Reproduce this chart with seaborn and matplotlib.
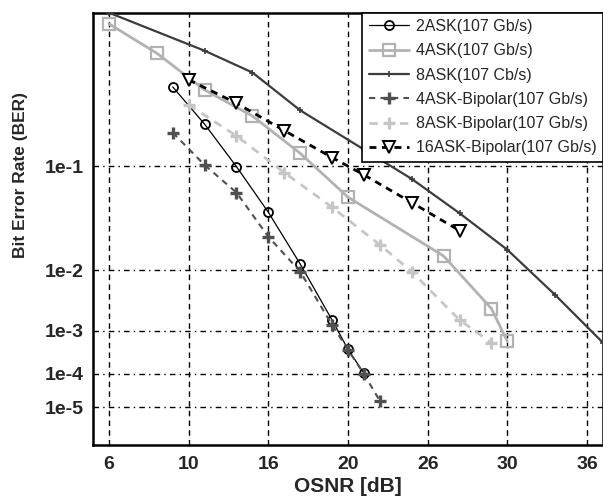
import numpy as np
import pandas as pd
import matplotlib
matplotlib.use("Agg")
import matplotlib.pyplot as plt
import seaborn as sns
from matplotlib.ticker import FixedLocator, FixedFormatter

# OSNR [dB] and bit error rate for each modulation format
osnr_2ask = [9, 11, 13, 15, 17, 19, 20, 21]
ber_2ask = [0.258, 0.176, 0.0995, 0.0437, 0.0120, 0.00161, 4.0e-4, 1.03e-4]

osnr_4ask = [5, 8, 11, 14, 17, 20, 26, 29, 30]
ber_4ask = [0.411, 0.339, 0.251, 0.193, 0.121, 0.059, 0.0151, 0.00258, 6.0e-4]

osnr_8ask = [5, 11, 14, 17, 24, 27, 30, 33, 36]
ber_8ask = [0.438, 0.345, 0.292, 0.205, 0.0816, 0.0428, 0.0179, 0.00434, 5.6e-4]

osnr_4ask_bip = [9, 11, 13, 15, 17, 19, 20, 21, 22]
ber_4ask_bip = [0.159, 0.102, 0.0643, 0.0251, 0.00952, 0.0013, 3.9e-4, 9.9e-5, 1.6e-5]

osnr_8ask_bip = [10, 13, 16, 19, 22, 24, 27, 29]
ber_8ask_bip = [0.217, 0.1527, 0.0906, 0.0485, 0.0204, 0.0095, 0.00161, 5.6e-4]

osnr_16ask_bip = [10, 13, 16, 19, 21, 24, 27]
ber_16ask_bip = [0.2745, 0.2208, 0.163, 0.1139, 0.0873, 0.0531, 0.029]

series_names = ["2ASK(107 Gb/s)", "4ASK(107 Gb/s)", "8ASK(107 Cb/s)",
                "4ASK-Bipolar(107 Gb/s)", "8ASK-Bipolar(107 Gb/s)",
                "16ASK-Bipolar(107 Gb/s)"]

x_ticks = [5, 10, 15, 20, 25, 30, 35]
x_tick_labels = ["6", "10", "16", "20", "26", "30", "36"]
y_ticks = [1e-1, 1e-2, 1e-3, 1e-4, 1e-5]
y_tick_labels = ["1e-1", "1e-2", "1e-3", "1e-4", "1e-5"]

sns.set_style("white")
plt.rcParams["font.family"] = ["Liberation Sans", "DejaVu Sans"]

fig = plt.figure(figsize=(6.03, 4.98), dpi=100)
ax = fig.add_axes([93 / 603, 1 - 445 / 498, 510 / 603, (445 - 12.7) / 498])


def ber_forward(b):
    b = np.clip(np.asarray(b, dtype=float), 1e-300, 1 - 1e-12)
    return -np.log10(-np.log10(b))


def ber_inverse(v):
    v = np.asarray(v, dtype=float)
    return 10.0 ** (-(10.0 ** (-v)))


ax.set_yscale("function", functions=(ber_forward, ber_inverse))

styles = [
    dict(color="black", lw=0.9, ls="-", marker="o", ms=6.5, mfc="none", mec="black", mew=1.3),
    dict(color="#b2b2b2", lw=2.0, ls="-", marker="s", ms=8.5, mfc="none", mec="#b2b2b2", mew=1.6),
    dict(color="#3c3c3c", lw=1.6, ls="-", marker="+", ms=5, mfc="none", mec="#3c3c3c", mew=1.2),
    dict(color="#505050", lw=1.5, ls=(0, (3, 2.5)), marker="+", ms=8, mfc="none", mec="#505050", mew=2.4),
    dict(color="#c6c6c6", lw=2.0, ls=(0, (3, 2.5)), marker="+", ms=8, mfc="none", mec="#c6c6c6", mew=2.4),
    dict(color="black", lw=2.0, ls=(0, (2.5, 2)), marker="v", ms=8, mfc="white", mec="black", mew=1.4),
]

data = [
    (osnr_2ask, ber_2ask),
    (osnr_4ask, ber_4ask),
    (osnr_8ask, ber_8ask),
    (osnr_4ask_bip, ber_4ask_bip),
    (osnr_8ask_bip, ber_8ask_bip),
    (osnr_16ask_bip, ber_16ask_bip),
]

for name, (xs, ys), st in zip(series_names, data, styles):
    df = pd.DataFrame({"OSNR": xs, "BER": ys})
    sns.lineplot(data=df, x="OSNR", y="BER", ax=ax, label=name,
                 color=st["color"], linewidth=st["lw"], linestyle=st["ls"],
                 marker=st["marker"], markersize=st["ms"],
                 markerfacecolor=st["mfc"], markeredgecolor=st["mec"],
                 markeredgewidth=st["mew"], zorder=3)

ax.set_xlim(4, 36)
ax.set_ylim(3.66e-7, 0.438)

ax.xaxis.set_major_locator(FixedLocator(x_ticks))
ax.xaxis.set_major_formatter(FixedFormatter(x_tick_labels))
ax.yaxis.set_major_locator(FixedLocator(y_ticks))
ax.yaxis.set_major_formatter(FixedFormatter(y_tick_labels))
ax.yaxis.set_minor_locator(FixedLocator([]))

ax.xaxis.grid(True, color="black", linestyle=(0, (4, 3)), linewidth=1.0)
ax.yaxis.grid(True, color="black", linestyle=(0, (4, 3, 1, 3)), linewidth=1.0)
ax.set_axisbelow(True)

ax.tick_params(axis="both", length=0, labelsize=14)
ax.tick_params(axis="x", pad=8)
ax.tick_params(axis="y", pad=7)
for lbl in ax.get_xticklabels() + ax.get_yticklabels():
    lbl.set_fontweight("bold")

for side in ["left", "bottom", "top", "right"]:
    ax.spines[side].set_color("black")
    ax.spines[side].set_linewidth(1.8)

ax.set_xlabel("OSNR [dB]", fontsize=15, fontweight="bold", labelpad=3)
ax.set_ylabel("Bit Error Rate (BER)", fontsize=12.5, fontweight="bold")
ax.yaxis.set_label_coords(-0.128, 0.625)

leg = ax.legend(loc="upper right", borderaxespad=0, fontsize=11.5,
                frameon=True, fancybox=False, framealpha=1, edgecolor="black",
                handlelength=2.5, handletextpad=0.45, labelspacing=0.58,
                borderpad=0.4)
leg.get_frame().set_linewidth(1.2)

fig.savefig("out.png", dpi=100)
